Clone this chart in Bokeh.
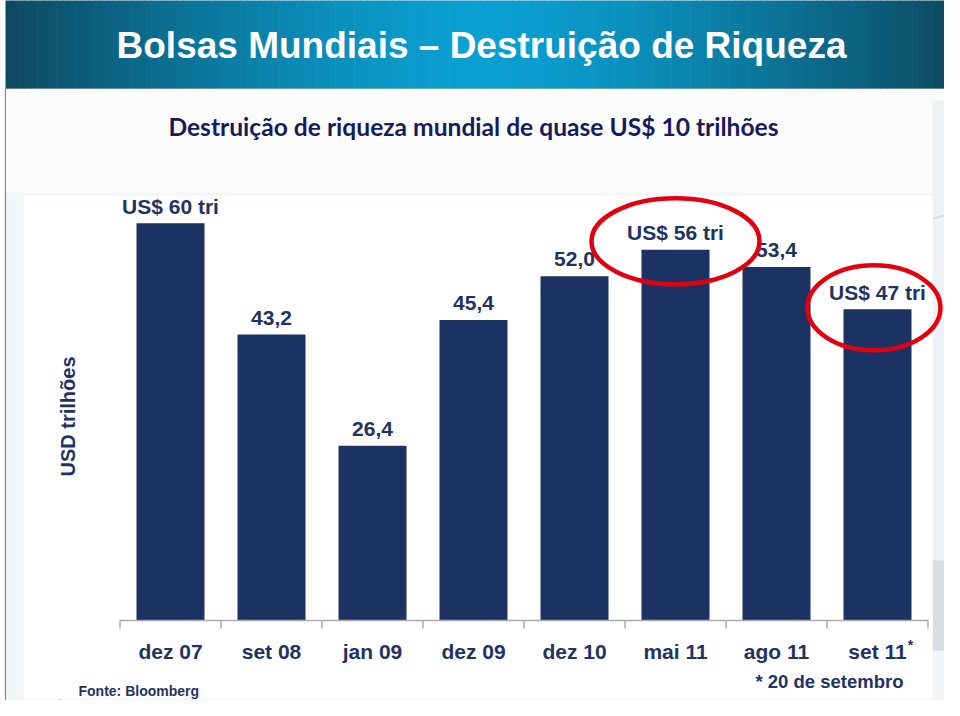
from bokeh.plotting import figure
from bokeh.models import Range1d
from bokeh.core.properties import value
from bokeh.embed import file_html
from bokeh.resources import INLINE

# ---------------- data ----------------
categories = ["dez 07", "set 08", "jan 09", "dez 09", "dez 10", "mai 11", "ago 11", "set 11"]
values = [60.0, 43.2, 26.4, 45.4, 52.0, 56.0, 53.4, 47.0]
bar_labels = ["US$ 60 tri", "43,2", "26,4", "45,4", "52,0", "US$ 56 tri", "53,4", "US$ 47 tri"]
highlight_idx = [5, 7]

title_text = "Bolsas Mundiais \u2013 Destrui\u00e7\u00e3o de Riqueza"
subtitle_text = "Destrui\u00e7\u00e3o de riqueza mundial de quase US$ 10 trilh\u00f5es"
ylabel_text = "USD trilh\u00f5es"
note_text = "* 20 de setembro"
source_text = "Fonte: Bloomberg"

# ---------------- layout (reference pixel geometry) ----------------
W, H = 944, 700
ORIG = 0                            # picture origin of the canvas
X0_PX, STEP_PX = 170.0, 101.0      # centre of first bar, spacing
BASE_PX, PPU = 620.0, 6.62          # y of zero line, pixels per unit
x_start = (ORIG - X0_PX) / STEP_PX
x_end = (ORIG + W - X0_PX) / STEP_PX
y_end = (BASE_PX - ORIG) / PPU
y_start = (BASE_PX - (ORIG + H)) / PPU

NAVY = "#1b3263"
TXT = "#1f3363"
RED = "#e2000f"
BOLD = value("Liberation Sans")

p = figure(width=W, height=H, x_range=Range1d(x_start, x_end), y_range=Range1d(y_start, y_end),
           output_backend="svg", toolbar_location=None, min_border=0,
           x_axis_location=None, y_axis_location=None)
p.grid.visible = False
p.outline_line_color = None
p.background_fill_color = "white"
p.border_fill_color = "white"
p.extra_x_ranges = {"px": Range1d(ORIG, ORIG + W)}
p.extra_y_ranges = {"px": Range1d(ORIG + H, ORIG)}
PX = dict(x_range_name="px", y_range_name="px")

# ---------------- slide background ----------------
p.quad(left=[5], right=[956], top=[88], bottom=[713], fill_color="#f3f5f8", line_color="#8a8a8a", line_width=1.2, **PX)
p.quad(left=[6], right=[955], top=[88], bottom=[192], fill_color="#fcfcfd", line_color=None, **PX)
# soft grey sheen on the right edge
p.quad(left=[932], right=[955], top=[100], bottom=[560], fill_color="#eef1f5", line_color=None, **PX)
p.quad(left=[932], right=[955], top=[560], bottom=[650], fill_color="#c9ced6", fill_alpha=0.6, line_color=None, **PX)
p.segment(x0=[933], y0=[218], x1=[955], y1=[212], line_color="#d5dae1", line_width=2, **PX)
p.segment(x0=[40], y0=[713], x1=[62], y1=[697], line_color="#d9dde3", line_width=2, **PX)

# header band with horizontal gradient
n = 150
lefts, rights, cols = [], [], []
edge = (13, 72, 95)
centre = (10, 160, 210)
for k in range(n):
    l = 5 + (956 - 5) * k / n
    r = 5 + (956 - 5) * (k + 1) / n + 0.6
    m = (l + r) / 2
    t = min(1.0, abs(m - 481) / 476.0) ** 1.4
    c = tuple(int(round(centre[j] * (1 - t) + edge[j] * t)) for j in range(3))
    lefts.append(l); rights.append(r); cols.append("#%02x%02x%02x" % c)
p.quad(left=lefts, right=rights, top=[-2] * n, bottom=[88] * n, fill_color=cols, line_color=None, **PX)

p.text(x=[481], y=[45], text=[title_text], text_font=BOLD, text_font_style="bold",
       text_font_size="37px", text_color="white", text_align="center", text_baseline="middle", **PX)
p.text(x=[473], y=[126], text=[subtitle_text], text_font=value("Lato"), text_font_style="bold",
       text_font_size="24.6px", text_color="#161c5b", text_align="center", text_baseline="middle", **PX)

# white chart box
p.quad(left=[23], right=[932], top=[195], bottom=[698], fill_color="white", line_color=None, **PX)

# source text (kept fully visible)
p.text(x=[78], y=[690], text=[source_text], text_font=BOLD, text_font_style="bold",
       text_font_size="14px", text_color=TXT, text_align="left", text_baseline="alphabetic", **PX)

# ---------------- chart ----------------
idx = list(range(len(categories)))
p.vbar(x=idx, top=values, bottom=0, width=68 / STEP_PX, fill_color=NAVY, line_color=None)

# axis line and ticks between categories
tick_x = [i - 0.5 for i in range(len(categories) + 1)]
p.segment(x0=[tick_x[0]], y0=[0], x1=[tick_x[-1]], y1=[0], line_color="#a9adb3", line_width=1.5)
p.segment(x0=tick_x, y0=[0] * len(tick_x), x1=tick_x, y1=[-8 / PPU] * len(tick_x),
          line_color="#a9adb3", line_width=1.5)

p.text(x=idx, y=[0] * len(idx), text=categories, y_offset=31, text_font=BOLD, text_font_style="bold",
       text_font_size="21px", text_color=TXT, text_align="center", text_baseline="middle")
p.text(x=[idx[-1]], y=[0], text=["*"], x_offset=33, y_offset=24, text_font=BOLD, text_font_style="bold",
       text_font_size="14px", text_color=TXT, text_align="center", text_baseline="middle")

p.text(x=idx, y=values, text=bar_labels, y_offset=-17, text_font=BOLD, text_font_style="bold",
       text_font_size="21px", text_color=TXT, text_align="center", text_baseline="middle")

# red highlight ellipses
hx = [idx[i] for i in highlight_idx]
hy = [values[5] + 8.5 / PPU, values[7] + 1.5 / PPU]
p.ellipse(x=[hx[0], hx[1] - 0.035], y=hy, width=[168 / STEP_PX, 133 / STEP_PX],
          height=[86 / PPU, 85 / PPU], fill_alpha=0, line_color=RED, line_width=4.5)

# y label and footnote
p.text(x=[67], y=[416], text=[ylabel_text], angle=1.5707963, text_font=BOLD, text_font_style="bold",
       text_font_size="20px", text_color=TXT, text_align="center", text_baseline="middle", **PX)
p.text(x=[829], y=[681], text=[note_text], text_font=BOLD, text_font_style="bold",
       text_font_size="18.5px", text_color=TXT, text_align="center", text_baseline="middle", **PX)

open("out.html", "w").write(file_html(p, INLINE))
